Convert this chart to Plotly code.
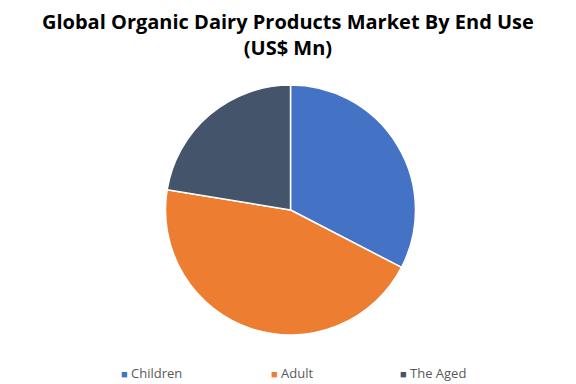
import plotly.graph_objects as go

categories = ["Children", "Adult", "The Aged"]
values = [32.6, 45.0, 22.4]
colors = ["#4472C4", "#ED7D31", "#44546A"]

W, H = 576, 384
ML, MR, MT, MB = 0, 11, 77, 57

fig = go.Figure(go.Pie(
    labels=categories,
    values=values,
    sort=False,
    direction="clockwise",
    rotation=0,
    textinfo="none",
    hoverinfo="label+value",
    showlegend=False,
    marker=dict(colors=colors, line=dict(color="white", width=1.5)),
))

# legend drawn as text entries (small coloured square + label)
legend_left_px = [111, 261, 390]
legend_y_px = 365
pw, ph = W - ML - MR, H - MT - MB
for cat, col, xpx in zip(categories, colors, legend_left_px):
    fig.add_annotation(
        x=(xpx - ML) / pw, y=(H - MB - legend_y_px) / ph,
        xref="paper", yref="paper", xanchor="left", yanchor="middle",
        showarrow=False,
        text=f"<span style='color:{col};font-size:11px'>■</span> {cat}",
        font=dict(family="Open Sans", size=13, color="#595959"),
    )

fig.update_layout(
    width=W, height=H,
    paper_bgcolor="white", plot_bgcolor="white",
    margin=dict(l=ML, r=MR, t=MT, b=MB),
    showlegend=False,
    title=dict(
        text="<b>Global Organic Dairy Products Market By End Use<br>(US$ Mn)</b>",
        x=0.486, xanchor="center", y=0.945, yanchor="top",
        font=dict(family="Open Sans", size=20, color="black"),
    ),
)

fig.write_html("out.html")
